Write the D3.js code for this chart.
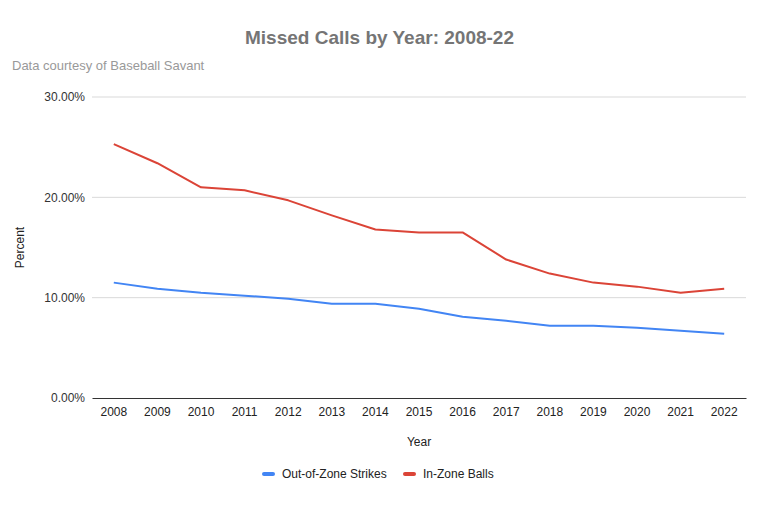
<!DOCTYPE html>
<html>
<head>
<meta charset="utf-8">
<script src="https://cdn.jsdelivr.net/npm/d3@7"></script>
<style>
  body { margin: 0; background: #fff; }
  text { font-family: "Liberation Sans", Arial, sans-serif; }
</style>
</head>
<body>
<div id="chart"></div>
<script>
// Data
const years = ['2008', '2009', '2010', '2011', '2012', '2013', '2014', '2015',
    '2016', '2017', '2018', '2019', '2020', '2021', '2022'];
const outOfZoneStrikes = [11.5, 10.9, 10.5, 10.2, 9.9, 9.4, 9.4, 8.9,
    8.1, 7.7, 7.2, 7.2, 7.0, 6.7, 6.4];
const inZoneBalls = [25.3, 23.4, 21.0, 20.7, 19.7, 18.2, 16.8, 16.5,
    16.5, 13.8, 12.4, 11.5, 11.1, 10.5, 10.9];
const yTicks = [0, 10, 20, 30];
const seriesNames = ['Out-of-Zone Strikes', 'In-Zone Balls'];
const seriesColors = ['#4285f4', '#db4437'];

const width = 759, height = 506;
const margin = { top: 97, right: 13, bottom: 108, left: 92 };

const svg = d3.select('#chart').append('svg')
    .attr('width', width)
    .attr('height', height);

const x = d3.scaleBand()
    .domain(years)
    .range([margin.left, width - margin.right]);

const y = d3.scaleLinear()
    .domain([0, 30])
    .range([height - margin.bottom, margin.top]);

// Title and subtitle
svg.append('text')
    .attr('x', width / 2)
    .attr('y', 44)
    .attr('text-anchor', 'middle')
    .attr('font-size', 19)
    .attr('font-weight', 'bold')
    .attr('fill', '#757575')
    .text('Missed Calls by Year: 2008-22');

svg.append('text')
    .attr('x', 12)
    .attr('y', 70)
    .attr('font-size', 13)
    .attr('fill', '#999')
    .text('Data courtesy of Baseball Savant');

// Gridlines
svg.append('g')
    .selectAll('line')
    .data(yTicks.filter(d => d > 0))
    .enter().append('line')
    .attr('x1', margin.left)
    .attr('x2', width - margin.right)
    .attr('y1', d => y(d))
    .attr('y2', d => y(d))
    .attr('stroke', '#d9d9d9')
    .attr('stroke-width', 1);

// Y axis labels
const yAxis = svg.append('g')
    .attr('transform', `translate(${margin.left},0)`)
    .call(d3.axisLeft(y).tickValues(yTicks).tickSize(0).tickPadding(7)
        .tickFormat(d => d.toFixed(2) + '%'));
yAxis.select('.domain').remove();
yAxis.selectAll('text')
    .attr('font-size', 12)
    .attr('font-family', '"Liberation Sans", Arial, sans-serif')
    .attr('fill', '#333');

// X axis
const xAxis = svg.append('g')
    .attr('transform', `translate(0,${y(0)})`)
    .call(d3.axisBottom(x).tickSize(0).tickPadding(9));
xAxis.select('.domain').attr('stroke', '#333').attr('stroke-width', 1);
xAxis.selectAll('text')
    .attr('font-size', 12)
    .attr('font-family', '"Liberation Sans", Arial, sans-serif')
    .attr('fill', '#222');

// Axis titles
svg.append('text')
    .attr('transform', `translate(20,${(y(0) + y(30)) / 2}) rotate(-90)`)
    .attr('text-anchor', 'middle')
    .attr('dy', '0.35em')
    .attr('font-size', 12)
    .attr('fill', '#222')
    .text('Percent');

svg.append('text')
    .attr('x', (margin.left + width - margin.right) / 2)
    .attr('y', 446)
    .attr('text-anchor', 'middle')
    .attr('font-size', 12)
    .attr('fill', '#222')
    .text('Year');

// Lines
const line = d3.line()
    .x((d, i) => x(years[i]) + x.bandwidth() / 2)
    .y(d => y(d));

[outOfZoneStrikes, inZoneBalls].forEach((vals, i) => {
    svg.append('path')
        .datum(vals)
        .attr('fill', 'none')
        .attr('stroke', seriesColors[i])
        .attr('stroke-width', 2)
        .attr('stroke-linejoin', 'round')
        .attr('d', line);
});

// Legend
const legendX = [262, 403];
const legend = svg.append('g');
seriesNames.forEach((name, i) => {
    legend.append('rect')
        .attr('x', legendX[i])
        .attr('y', 472)
        .attr('width', 13)
        .attr('height', 4)
        .attr('rx', 2)
        .attr('fill', seriesColors[i]);
    legend.append('text')
        .attr('x', legendX[i] + 20)
        .attr('y', 474)
        .attr('dy', '0.35em')
        .attr('font-size', 12)
        .attr('fill', '#222')
        .text(name);
});
</script>
</body>
</html>
